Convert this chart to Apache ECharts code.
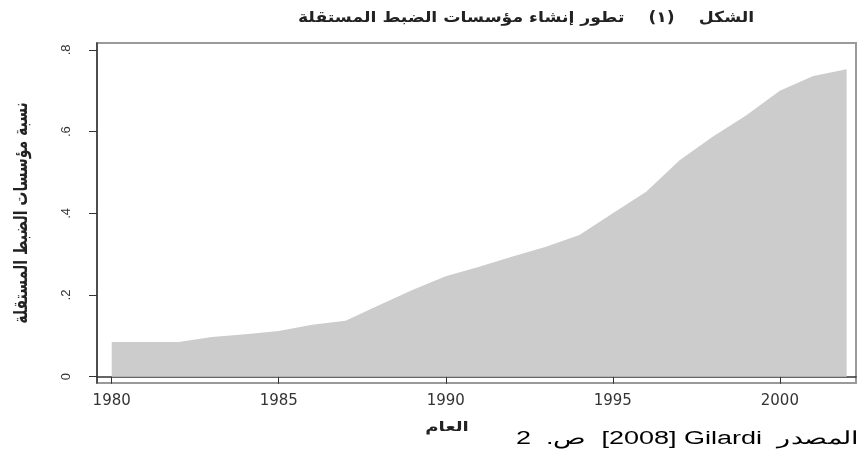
<!DOCTYPE html>
<html>
<head>
<meta charset="utf-8">
<title>تطور إنشاء مؤسسات الضبط المستقلة</title>
<script src="https://cdn.jsdelivr.net/npm/echarts@6/dist/echarts.min.js"></script>
<style>
  html, body { margin: 0; padding: 0; background: #fff; }
  #chart { width: 859px; height: 452px; }
</style>
</head>
<body>
<div id="chart"></div>
<script>
// years and share of independent regulatory agencies
var years = [1980, 1981, 1982, 1983, 1984, 1985, 1986, 1987, 1988, 1989, 1990, 1991,
  1992, 1993, 1994, 1995, 1996, 1997, 1998, 1999, 2000, 2001, 2002];
var shares = [0.085, 0.085, 0.085, 0.097, 0.104, 0.112, 0.127, 0.137, 0.175, 0.212, 0.246, 0.269,
  0.294, 0.318, 0.347, 0.400, 0.453, 0.530, 0.588, 0.640, 0.700, 0.736, 0.753];
var xTicks = [1980, 1985, 1990, 1995, 2000];
var yTicks = [0, 0.2, 0.4, 0.6, 0.8];

var titleText = "الشكل    (١)    تطور إنشاء مؤسسات الضبط المستقلة";
var yName = "نسبة مؤسسات الضبط المستقلة";
var xName = "العام";

var arabicFont = "DejaVu Sans";
var latinFont = "Liberation Sans, Arial, sans-serif";

var myChart = echarts.init(document.getElementById("chart"));
var option = {
  backgroundColor: "#fff",
  animation: false,
  // the source picture is stretched sideways, so the texts get a scaleX
  graphic: [
    {
      type: "text",
      x: 526,
      y: 18,
      scaleX: 1.15,
      style: {
        text: titleText,
        x: 0, y: 0,
        align: "center",
        verticalAlign: "middle",
        font: "bold 15px " + arabicFont,
        fill: "#222"
      }
    },
    {
      type: "text",
      x: 22,
      y: 213,
      rotation: Math.PI / 2,
      scaleY: 1.35,
      style: {
        text: yName,
        x: 0, y: 0,
        align: "center",
        verticalAlign: "middle",
        font: "bold 14px " + arabicFont,
        fill: "#222"
      }
    },
    {
      type: "text",
      x: 447,
      y: 428,
      scaleX: 1.4,
      style: {
        text: xName,
        x: 0, y: 0,
        align: "center",
        verticalAlign: "middle",
        font: "bold 13px " + arabicFont,
        fill: "#222"
      }
    },
    {
      type: "text",
      x: 858,
      y: 439,
      scaleX: 1.5,
      style: {
        // tokens in visual order, each one drawn on its own
        text: "{s|2  .ص  }{s|[2008] Gilardi  }{s|المصدر}",
        x: 0, y: 0,
        align: "right",
        verticalAlign: "middle",
        rich: {
          s: { fontFamily: latinFont, fontSize: 18, color: "#333" }
        }
      }
    }
  ],
  grid: {
    left: 97,
    right: 3,
    top: 43,
    bottom: 69,
    show: true,
    borderColor: "#9a9a9a",
    borderWidth: 2,
    backgroundColor: "#fff"
  },
  xAxis: {
    type: "value",
    min: 1979.56,
    max: 2002.28,
    splitLine: { show: false },
    axisLine: { show: true, lineStyle: { color: "#333", width: 1.5 } },
    axisTick: { show: true, length: 7, customValues: xTicks, lineStyle: { color: "#333" } },
    axisLabel: {
      customValues: xTicks,
      margin: 11,
      fontFamily: "DejaVu Sans",
      fontSize: 15,
      color: "#333",
      formatter: function (v) { return String(v); }
    }
  },
  yAxis: {
    type: "value",
    min: -0.0154,
    max: 0.817,
    splitLine: { show: false },
    axisLine: { show: true, lineStyle: { color: "#333", width: 1.5 } },
    axisTick: { show: true, length: 8, customValues: yTicks, lineStyle: { color: "#333" } },
    axisLabel: {
      customValues: yTicks,
      rotate: 90,
      margin: 24,
      fontFamily: latinFont,
      fontSize: 13,
      color: "#333",
      formatter: function (v) {
        return v === 0 ? "0" : String(Math.round(v * 10) / 10).replace(/^0\./, ".");
      }
    }
  },
  series: [
    {
      type: "line",
      data: years.map(function (y, i) { return [y, shares[i]]; }),
      showSymbol: false,
      symbol: "none",
      lineStyle: { width: 0 },
      areaStyle: { color: "#cccccc", opacity: 1 },
      itemStyle: { color: "#cccccc" }
    }
  ]
};
myChart.setOption(option);
</script>
</body>
</html>
